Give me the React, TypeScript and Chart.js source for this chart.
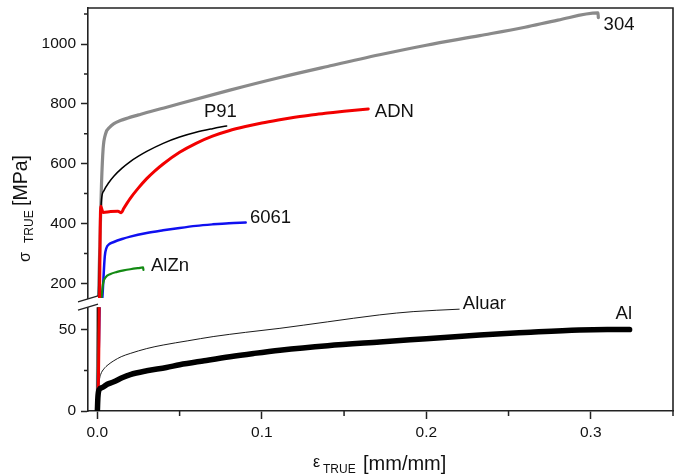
import React, { useEffect, useRef } from "react";
import { Chart, registerables } from "chart.js";

Chart.register(...registerables);

const FONT = "'Liberation Sans', Arial, Helvetica, sans-serif";
const INK = "#111111";
const AXIS = "#222222";

// axis ranges
const X_MIN = -0.0057;
const X_MAX = 0.35;
const UPPER_MIN = 130.8;
const UPPER_MAX = 1120.4;
const LOWER_MIN = 0;
const LOWER_MAX = 66;
const UPPER_CUT = 151;
const LOWER_CUT = 64;

// tick values
const STRAIN_TICKS = [0, 0.1, 0.2, 0.3];
const STRAIN_MINOR = [0.05, 0.15, 0.25, 0.35];
const UPPER_TICKS = [200, 400, 600, 800, 1000];
const UPPER_MINOR = [300, 500, 700, 900, 1100];
const LOWER_TICKS = [0, 50];
const LOWER_MINOR = [25];

// series: [strain, true stress MPa]
const S304 = [[0, 0], [0.0015, 330], [0.0025, 530], [0.0035, 650], [0.005, 700], [0.0075, 722], [0.0101, 734], [0.014, 744], [0.0182, 752], [0.025, 763], [0.03, 771], [0.0405, 786], [0.0503, 801], [0.08, 845], [0.111, 888], [0.14, 925], [0.1716, 964], [0.2, 996], [0.2325, 1028], [0.26, 1056], [0.28, 1080], [0.3044, 1104], [0.3046, 1088]];
const ADN = [[0, 0], [0.0011, 66], [0.002, 458], [0.0035, 437], [0.008, 440], [0.0125, 441], [0.0145, 436], [0.016, 450], [0.02, 484], [0.025, 519], [0.03, 550], [0.035, 576], [0.04, 599], [0.05, 638], [0.06, 668], [0.07, 692], [0.08, 710], [0.09, 724], [0.1, 736], [0.11, 746], [0.12, 755], [0.13, 763], [0.14, 769], [0.15, 775], [0.1647, 783]];
const P91 = [[0, 0], [0.0018, 400], [0.0025, 480], [0.004, 510], [0.007, 537], [0.01, 558], [0.015, 585], [0.02, 607], [0.025, 625], [0.03, 641], [0.04, 668], [0.05, 689], [0.06, 705], [0.07, 717], [0.0786, 726]];
const AA6061 = [[0, 0], [0.003, 150], [0.0045, 290], [0.0055, 318], [0.007, 330], [0.01, 338], [0.015, 348], [0.02, 356], [0.03, 368], [0.04, 377], [0.05, 385], [0.06, 392], [0.07, 397], [0.08, 401], [0.0902, 403]];
const ALZN = [[0, 0], [0.0025, 150], [0.0035, 200], [0.005, 220], [0.008, 231], [0.012, 238], [0.016, 243], [0.02, 247], [0.025, 251], [0.0278, 253], [0.028, 245]];
const ALUAR = [[0, 0], [0.0006, 12], [0.0012, 19], [0.002, 22.5], [0.004, 26], [0.0065, 28.5], [0.01, 31], [0.0145, 33.5], [0.02, 35.5], [0.03, 38.5], [0.04, 40.7], [0.055, 43.3], [0.0704, 45.9], [0.09, 48.5], [0.111, 51], [0.14, 55], [0.1717, 59.3], [0.192, 61.3], [0.22, 62.8]];
const AL = [[0, 0], [0.0003, 8], [0.001, 13], [0.003, 14.5], [0.006, 16.5], [0.01, 18], [0.015, 20.5], [0.02, 22.5], [0.03, 24.8], [0.042, 26.8], [0.05, 28.5], [0.065, 31], [0.0806, 33.5], [0.095, 35.5], [0.111, 37.5], [0.14, 40.3], [0.1717, 42.6], [0.2, 44.6], [0.2325, 46.9], [0.26, 48.4], [0.293, 50], [0.31, 50.3], [0.3236, 50.2]];

// curve labels
const LABEL_TEXT = ["304", "ADN", "P91", "6061", "AlZn", "Aluar", "Al"];
const LABEL_X = [0.3078, 0.1687, 0.0648, 0.0928, 0.0326, 0.2222, 0.3151];
const LABEL_Y = [1046.8, 754.9, 754.9, 403.2, 242, 62.8, 56.6];
const LABEL_AXIS = ["yU", "yU", "yU", "yU", "yU", "yL", "yL"];

type Series = { data: number[][]; color: string; width: number; axes: string[] };

// drawing order: first is on top
const SERIES: Series[] = [
  { data: AL, color: "#000000", width: 5.5, axes: ["yL"] },
  { data: ADN, color: "#f20000", width: 3, axes: ["yU", "yL"] },
  { data: ALZN, color: "#138a13", width: 2.2, axes: ["yU", "yL"] },
  { data: AA6061, color: "#1010f0", width: 2.5, axes: ["yU", "yL"] },
  { data: P91, color: "#000000", width: 1.5, axes: ["yU", "yL"] },
  { data: S304, color: "#8a8a8a", width: 3.2, axes: ["yU", "yL"] },
  { data: ALUAR, color: "#000000", width: 0.9, axes: ["yL"] },
];

const regionClip = {
  id: "regionClip",
  beforeDatasetDraw(chart: any, args: any) {
    const ds = chart.data.datasets[args.index];
    const { left, right, top, bottom } = chart.chartArea;
    const ctx = chart.ctx;
    ctx.save();
    ctx.beginPath();
    if (ds.yAxisID === "yU") {
      const yb = chart.scales.yU.getPixelForValue(UPPER_CUT);
      ctx.rect(left, top - 6, right - left, yb - top + 6);
    } else {
      const yt = chart.scales.yL.getPixelForValue(LOWER_CUT);
      ctx.rect(left, yt, right - left, bottom - yt + 6);
    }
    ctx.clip();
  },
  afterDatasetDraw(chart: any) {
    chart.ctx.restore();
  },
};

const decorations = {
  id: "decorations",
  afterDraw(chart: any) {
    const ctx = chart.ctx;
    const { left, right, top, bottom } = chart.chartArea;
    const { x, yU, yL } = chart.scales;
    ctx.save();
    ctx.strokeStyle = AXIS;
    ctx.lineWidth = 1.6;
    // top and right frame
    ctx.beginPath();
    ctx.moveTo(left, top);
    ctx.lineTo(right, top);
    ctx.lineTo(right, bottom);
    ctx.stroke();
    // minor ticks
    ctx.lineWidth = 1.5;
    ctx.beginPath();
    STRAIN_MINOR.forEach((v) => {
      const px = x.getPixelForValue(v);
      ctx.moveTo(px, bottom);
      ctx.lineTo(px, bottom + 5);
    });
    UPPER_MINOR.forEach((v) => {
      const py = yU.getPixelForValue(v);
      ctx.moveTo(left, py);
      ctx.lineTo(left - 4, py);
    });
    LOWER_MINOR.forEach((v) => {
      const py = yL.getPixelForValue(v);
      ctx.moveTo(left, py);
      ctx.lineTo(left - 4, py);
    });
    ctx.stroke();
    // axis break
    const gTop = yU.getPixelForValue(UPPER_CUT);
    const gBot = yL.getPixelForValue(LOWER_CUT);
    const x0 = left - 10, x1 = left + 10, rise = 6;
    ctx.fillStyle = "#ffffff";
    ctx.beginPath();
    ctx.moveTo(x0, gTop + rise / 2 + 1);
    ctx.lineTo(x1, gTop - rise / 2 + 1);
    ctx.lineTo(x1, gBot - rise / 2);
    ctx.lineTo(x0, gBot + rise / 2);
    ctx.closePath();
    ctx.fill();
    ctx.lineWidth = 1.3;
    ctx.beginPath();
    ctx.moveTo(x0, gTop + rise / 2 + 1);
    ctx.lineTo(x1, gTop - rise / 2 + 1);
    ctx.moveTo(x0, gBot + rise / 2);
    ctx.lineTo(x1, gBot - rise / 2);
    ctx.stroke();

    // curve labels
    ctx.fillStyle = INK;
    ctx.font = `18.5px ${FONT}`;
    ctx.textAlign = "left";
    ctx.textBaseline = "alphabetic";
    LABEL_TEXT.forEach((t, i) => {
      const sc = chart.scales[LABEL_AXIS[i]];
      ctx.fillText(t, x.getPixelForValue(LABEL_X[i]), sc.getPixelForValue(LABEL_Y[i]));
    });

    // x axis title
    ctx.font = `16px ${FONT}`;
    ctx.fillText("ε", 313, 467);
    ctx.font = `12px ${FONT}`;
    ctx.fillText("TRUE", 323, 473);
    ctx.font = `20px ${FONT}`;
    ctx.fillText("[mm/mm]", 363, 470);

    // y axis title (rotated)
    ctx.save();
    ctx.rotate(-Math.PI / 2);
    ctx.font = `16px ${FONT}`;
    ctx.fillText("σ", -262, 30);
    ctx.font = `12px ${FONT}`;
    ctx.fillText("TRUE", -243, 33);
    ctx.font = `19.5px ${FONT}`;
    ctx.fillText("[MPa]", -206, 27);
    ctx.restore();

    ctx.restore();
  },
};

const tickFont = { family: FONT, size: 15.5 };

function zeroPad(s: any) {
  s.paddingTop = 0;
  s.paddingBottom = 0;
  s.paddingLeft = 0;
  s.paddingRight = 0;
}

function yScale(min: number, max: number, ticks: number[], weight: number, stackWeight: number) {
  return {
    type: "linear",
    position: "left",
    stack: "sigma",
    stackWeight,
    weight,
    min,
    max,
    afterBuildTicks: (s: any) => {
      s.ticks = ticks.map((v) => ({ value: v }));
    },
    afterFit: (s: any) => {
      s.width = 88;
      zeroPad(s);
    },
    ticks: { font: tickFont, color: INK, padding: 5, autoSkip: false, callback: (v: any) => String(v) },
    grid: { display: true, drawOnChartArea: false, drawTicks: true, tickLength: 7, tickColor: AXIS, tickWidth: 1.5 },
    border: { display: true, color: AXIS, width: 1.6 },
  };
}

export default function App() {
  const ref = useRef<HTMLCanvasElement | null>(null);

  useEffect(() => {
    if (!ref.current) return;
    const datasets: any[] = [];
    SERIES.forEach((s) => {
      s.axes.forEach((ax) => {
        datasets.push({
          data: s.data.map(([x, y]) => ({ x, y })),
          yAxisID: ax,
          xAxisID: "x",
          showLine: true,
          pointRadius: 0,
          borderColor: s.color,
          backgroundColor: s.color,
          borderWidth: s.width,
          borderCapStyle: "round",
          borderJoinStyle: "round",
          cubicInterpolationMode: "monotone",
          fill: false,
        });
      });
    });

    const chart = new Chart(ref.current, {
      type: "scatter",
      data: { datasets },
      options: {
        responsive: false,
        animation: false,
        devicePixelRatio: 1,
        events: [],
        layout: { padding: { left: 0, top: 8, right: 6, bottom: 0 } },
        plugins: { legend: { display: false }, tooltip: { enabled: false } },
        scales: {
          x: {
            type: "linear",
            position: "bottom",
            min: X_MIN,
            max: X_MAX,
            afterBuildTicks: (s: any) => {
              s.ticks = STRAIN_TICKS.map((v) => ({ value: v }));
            },
            afterFit: (s: any) => {
              s.height = 63;
              zeroPad(s);
            },
            ticks: { font: tickFont, color: INK, padding: 4, maxRotation: 0, autoSkip: false, callback: (v: any) => Number(v).toFixed(1) },
            grid: { display: true, drawOnChartArea: false, drawTicks: true, tickLength: 8, tickColor: AXIS, tickWidth: 1.5 },
            border: { display: true, color: AXIS, width: 1.6 },
          },
          yL: yScale(LOWER_MIN, LOWER_MAX, LOWER_TICKS, 0, 107),
          yU: yScale(UPPER_MIN, UPPER_MAX, UPPER_TICKS, 1, 296),
        } as any,
      },
      plugins: [regionClip, decorations],
    } as any);
    return () => chart.destroy();
  }, []);

  return (
    <div style={{ position: "absolute", left: 0, top: 0, width: 679, height: 474, background: "#fff" }}>
      <canvas ref={ref} width={679} height={474} style={{ display: "block", width: 679, height: 474 }} />
    </div>
  );
}
